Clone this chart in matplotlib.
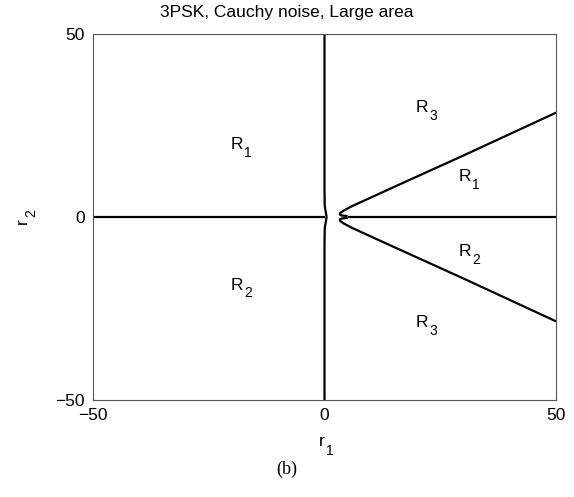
import matplotlib
matplotlib.use("Agg")
import matplotlib.pyplot as plt

plt.rcParams["font.family"] = ["Liberation Sans", "DejaVu Sans"]

# decision boundaries for 3PSK in Cauchy noise
vert_x = [0.0, 0.0, 0.05, 0.3, 0.45, 0.3, 0.05, 0.0, 0.0]
vert_y = [50.0, 8.0, 3.0, 1.2, 0.0, -1.2, -3.0, -8.0, -50.0]

left_x = [-50.0, 0.0]
left_y = [0.0, 0.0]

mid_x = [5.0, 50.0]
mid_y = [0.0, 0.0]

upper_x = [50.0, 30.0, 15.0, 6.0, 4.2, 3.4, 3.3, 3.7, 5.0]
upper_y = [28.5, 16.8, 8.2, 3.0, 1.8, 1.1, 0.7, 0.4, 0.25]

lower_x = [50.0, 30.0, 15.0, 6.0, 4.2, 3.4, 3.3, 3.7, 5.0]
lower_y = [-28.5, -16.8, -8.2, -3.0, -1.8, -1.1, -0.7, -0.4, -0.25]

# region labels: letter, subscript, anchor (right edge of letter, baseline)
region_letter = ["R", "R", "R", "R", "R", "R"]
region_sub = ["1", "2", "3", "1", "2", "3"]
region_x = [-17.6, -17.6, 22.4, 31.6, 31.6, 22.4]
region_y = [18.6, -19.9, 28.7, 9.8, -10.7, -30.1]

ticks = [-50, 0, 50]
tick_labels = ["\u221250", "0", "50"]

W, H = 574, 497
fig = plt.figure(figsize=(W / 100, H / 100), dpi=100)
ax = fig.add_axes([93 / W, 1 - 400 / H, 463 / W, 366 / H])

for xs, ys in [(vert_x, vert_y), (left_x, left_y), (mid_x, mid_y),
               (upper_x, upper_y), (lower_x, lower_y)]:
    ax.plot(xs, ys, color="black", lw=1.6, solid_joinstyle="round",
            solid_capstyle="butt")

for letter, sub, x, y in zip(region_letter, region_sub, region_x, region_y):
    ax.text(x, y, letter, fontsize=12.5, ha="right", va="baseline")
    ax.annotate(sub, (x, y), xytext=(1.0, -5.5), textcoords="offset points",
                fontsize=10, ha="left", va="baseline")

ax.set_xlim(-50, 50)
ax.set_ylim(-50, 50)
ax.set_xticks(ticks)
ax.set_yticks(ticks)
ax.set_xticklabels(tick_labels)
ax.set_yticklabels(tick_labels)
ax.tick_params(length=0, labelsize=12.5, pad=6)
for s in ax.spines.values():
    s.set_color("#555555")
    s.set_linewidth(0.8)

def px(x, y):
    return x / W, 1 - y / H

fig.text(*px(287, 12), "3PSK, Cauchy noise, Large area", fontsize=12.5,
         ha="center", va="center")

# axis labels with dropped subscripts
fig.text(*px(325, 446), "r", fontsize=12.5, ha="right", va="baseline")
fig.text(*px(326, 455), "1", fontsize=10, ha="left", va="baseline")
fig.text(*px(27, 224), "r", fontsize=12.5, rotation=90, rotation_mode="anchor",
         ha="left", va="baseline")
fig.text(*px(35, 217), "2", fontsize=10, rotation=90, rotation_mode="anchor",
         ha="left", va="baseline")

fig.text(*px(287, 469), "(b)", ha="center", va="center", fontsize=13,
         family="Liberation Serif")

fig.savefig("out.png", dpi=100)
